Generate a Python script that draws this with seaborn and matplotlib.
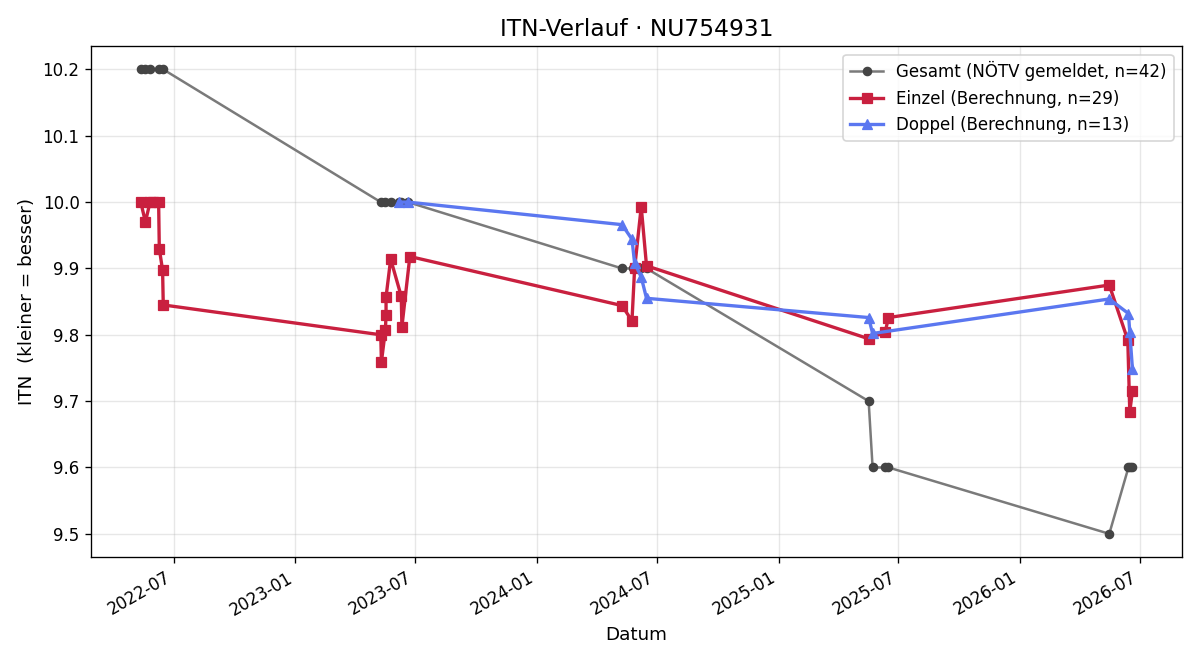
import pandas as pd
import matplotlib
matplotlib.use("Agg")
import matplotlib.pyplot as plt
import matplotlib.dates as mdates
import seaborn as sns

# Gesamt-ITN (vom NÖTV gemeldet)
gesamt_datum = ["2022-05-12", "2022-05-19", "2022-05-26", "2022-06-08", "2022-06-15",
                "2023-05-10", "2023-05-17", "2023-05-25", "2023-06-06", "2023-06-10", "2023-06-20",
                "2024-05-09", "2024-05-26", "2024-06-07", "2024-06-15",
                "2025-05-17", "2025-05-23", "2025-06-11", "2025-06-16",
                "2026-05-16", "2026-06-14", "2026-06-17", "2026-06-20"]
gesamt_itn = [10.2, 10.2, 10.2, 10.2, 10.2,
              10.0, 10.0, 10.0, 10.0, 10.0, 10.0,
              9.9, 9.9, 9.9, 9.9,
              9.7, 9.6, 9.6, 9.6,
              9.5, 9.6, 9.6, 9.6]
gesamt_n = 42

# Einzel (Berechnung)
einzel_datum = ["2022-05-12", "2022-05-19", "2022-05-26", "2022-05-30", "2022-06-08",
                "2022-06-09", "2022-06-14", "2022-06-15",
                "2023-05-10", "2023-05-11", "2023-05-17", "2023-05-18", "2023-05-18",
                "2023-05-25", "2023-06-10", "2023-06-11", "2023-06-23",
                "2024-05-09", "2024-05-24", "2024-05-28", "2024-06-07", "2024-06-15",
                "2025-05-17", "2025-06-11", "2025-06-16",
                "2026-05-16", "2026-06-13", "2026-06-16", "2026-06-20"]
einzel_itn = [10.0, 9.97, 10.0, 10.0, 10.0,
              9.93, 9.897, 9.845,
              9.80, 9.759, 9.807, 9.83, 9.857,
              9.914, 9.858, 9.812, 9.918,
              9.844, 9.821, 9.90, 9.993, 9.904,
              9.794, 9.804, 9.826,
              9.875, 9.792, 9.684, 9.715]

# Doppel (Berechnung)
doppel_datum = ["2023-06-06", "2023-06-20",
                "2024-05-09", "2024-05-24", "2024-05-28", "2024-06-07", "2024-06-15",
                "2025-05-17", "2025-05-23",
                "2026-05-16", "2026-06-14", "2026-06-16", "2026-06-20"]
doppel_itn = [10.0, 10.0,
              9.966, 9.944, 9.908, 9.887, 9.855,
              9.826, 9.802,
              9.854, 9.832, 9.804, 9.749]

gesamt = pd.DataFrame({"Datum": pd.to_datetime(gesamt_datum), "ITN": gesamt_itn})
einzel = pd.DataFrame({"Datum": pd.to_datetime(einzel_datum), "ITN": einzel_itn})
doppel = pd.DataFrame({"Datum": pd.to_datetime(doppel_datum), "ITN": doppel_itn})

fig, ax = plt.subplots(figsize=(10, 5.5), dpi=120)

sns.lineplot(data=gesamt, x="Datum", y="ITN", ax=ax, estimator=None, sort=False,
             color="#7a7a7a", linewidth=1.5, marker="o", markersize=5,
             markerfacecolor="#444444", markeredgecolor="#444444",
             label=f"Gesamt (NÖTV gemeldet, n={gesamt_n})")
sns.lineplot(data=einzel, x="Datum", y="ITN", ax=ax, estimator=None, sort=False,
             color="#C9203F", linewidth=2, marker="s", markersize=6,
             markeredgecolor="#C9203F",
             label=f"Einzel (Berechnung, n={len(einzel_itn)})")
sns.lineplot(data=doppel, x="Datum", y="ITN", ax=ax, estimator=None, sort=False,
             color="#5B77F0", linewidth=2, marker="^", markersize=6,
             markeredgecolor="#5B77F0",
             label=f"Doppel (Berechnung, n={len(doppel_itn)})")

ax.set_title("ITN-Verlauf · NU754931", fontsize=14)
ax.set_xlabel("Datum", fontsize=11)
ax.set_ylabel("ITN  (kleiner = besser)", fontsize=11)
ax.grid(alpha=0.3)
ax.xaxis.set_major_locator(mdates.MonthLocator(bymonth=[1, 7]))
ax.xaxis.set_major_formatter(mdates.DateFormatter("%Y-%m"))
ax.legend(loc="upper right", fontsize=10)
fig.autofmt_xdate()

fig.subplots_adjust(left=0.076, right=0.985, top=0.930, bottom=0.156)
fig.savefig("out.png", dpi=120)
